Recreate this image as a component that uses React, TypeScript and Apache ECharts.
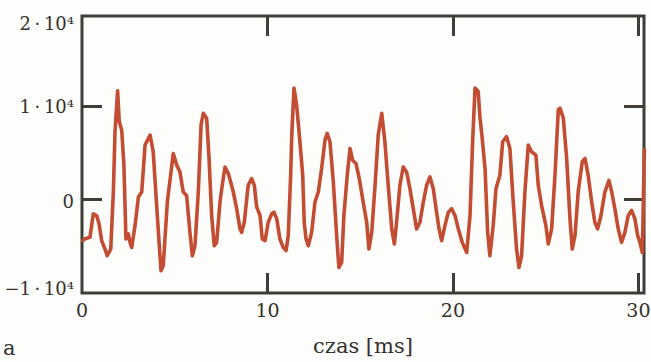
import React, { useEffect, useRef } from "react";
import * as echarts from "echarts";

// time axis [ms]
const timeMs = [
  0.05, 0.16, 0.43, 0.61, 0.79, 0.92, 1.06, 1.24, 1.36, 1.55,
  1.69, 1.78, 1.92, 2.01, 2.14, 2.26, 2.37, 2.5, 2.59, 2.68,
  2.86, 3.04, 3.22, 3.4, 3.67, 3.84, 4.06, 4.26, 4.38, 4.6,
  4.92, 5.11, 5.28, 5.46, 5.64, 5.82, 5.95, 6.09, 6.27, 6.42,
  6.54, 6.72, 6.85, 6.99, 7.13, 7.26, 7.44, 7.56, 7.71, 7.89,
  8.16, 8.34, 8.52, 8.61, 8.75, 8.96, 9.15, 9.29, 9.42, 9.6,
  9.72, 9.87, 10.04, 10.23, 10.35, 10.5, 10.67, 10.85, 11.0, 11.12,
  11.25, 11.31, 11.43, 11.57, 11.75, 11.9, 11.98, 12.08, 12.2, 12.38,
  12.56, 12.74, 12.92, 13.1, 13.22, 13.37, 13.55, 13.73, 13.85, 14.0,
  14.12, 14.3, 14.45, 14.59, 14.77, 14.95, 15.16, 15.35, 15.47, 15.62,
  15.8, 15.97, 16.16, 16.33, 16.51, 16.7, 16.84, 16.96, 17.14, 17.32,
  17.5, 17.68, 17.86, 18.04, 18.22, 18.4, 18.58, 18.76, 18.94, 19.08,
  19.25, 19.39, 19.57, 19.75, 19.93, 20.11, 20.29, 20.5, 20.74, 20.92,
  21.06, 21.19, 21.36, 21.46, 21.56, 21.73, 21.87, 21.99, 22.17, 22.32,
  22.53, 22.68, 22.89, 23.07, 23.25, 23.43, 23.56, 23.7, 23.88, 24.06,
  24.24, 24.47, 24.6, 24.78, 25.01, 25.14, 25.32, 25.5, 25.68, 25.77,
  25.95, 26.13, 26.31, 26.43, 26.58, 26.75, 26.97, 27.12, 27.29, 27.48,
  27.65, 27.8, 27.98, 28.19, 28.41, 28.56, 28.73, 28.91, 29.09, 29.27,
  29.45, 29.63, 29.81, 29.96, 30.08, 30.21, 30.32,
];

// signal amplitude
const amplitude = [
  -4400, -4200, -4050, -1540, -1720, -2610, -4410, -5300, -6020, -5300,
  790, 7240, 11610, 8310, 7420, 3660, -4230, -3690, -4590, -5130,
  -2800, 250, 790, 5810, 6880, 5090, -1720, -7630, -7100, -290,
  4910, 3660, 2940, 790, 430, -3520, -6020, -4950, 790, 7960,
  9210, 8680, 4380, -1720, -4950, -4590, -290, 1510, 3470, 2760,
  790, -1000, -3150, -3520, -2440, 1510, 2230, 1510, -830, -1720,
  -4230, -4410, -2440, -1540, -1370, -2080, -4230, -5130, -5480, -3870,
  2580, 6880, 11900, 10110, 6160, 2580, -2440, -4230, -4950, -3520,
  -290, 790, 3300, 6340, 7060, 6160, 1860, -3870, -7280, -6740,
  -1720, 2580, 5450, 4190, 3840, 2230, -290, -2470, -5300, -3520,
  1510, 6880, 9210, 6160, 1510, -3150, -4760, -2440, 1510, 3470,
  2940, 1150, -1000, -3150, -2440, -290, 1510, 2400, 1150, -830,
  -3150, -4410, -2800, -1370, -1000, -1720, -3150, -4590, -5670, -1720,
  6160, 11900, 11540, 8680, 6880, 3300, -3520, -6020, -2800, 1150,
  2580, 6160, 6700, 5450, -290, -5300, -7280, -6020, 790, 5810,
  5090, 4730, 1510, -650, -2800, -4760, -3150, 2580, 9570, 9750,
  8680, 4380, -2080, -5300, -3870, 790, 4010, 4380, 2580, -290,
  -2440, -3150, -1720, 790, 2040, 790, -1000, -3150, -4590, -3520,
  -1720, -1180, -2080, -3870, -4590, -5670, 5300,
];

const xTicks = [0, 10, 20, 30];
const xInnerTicks = [10, 20, 30];
const yTicks = [-10000, 0, 10000, 20000];
const yInnerTicks = [0, 10000];
const yTickText: Record<string, string> = {
  "-10000": "\u22121\u2009\u00b7\u200910\u2074",
  "0": "0",
  "10000": "1\u2009\u00b7\u200910\u2074",
  "20000": "2\u2009\u00b7\u200910\u2074",
};
const xAxisName = "czas [ms]";
const panelLetter = "a";

const X_MAX = 30.3;
const Y_MIN = -10000;
const Y_MAX = 19600;

const FRAME = "#403c37";
const TEXT = "#34312e";
const LINE = "#c24d32";
const FONT = "DejaVu Serif";

export default function App() {
  const ref = useRef<HTMLDivElement>(null);
  useEffect(() => {
    document.body.style.margin = "0";
    if (!ref.current) return;
    const chart = echarts.init(ref.current, null, { renderer: "svg" });

    // label anchors nudged slightly to match the original typesetting
    const yLabelAnchors = yTicks.map((v) => (v >= 20000 ? 18850 : v + (v === 10000 ? -50 : v === 0 ? -220 : 430)));
    const nearestTick = (v: number) => {
      let best = yTicks[0];
      for (const t of yTicks) if (Math.abs(t - v) < Math.abs(best - v)) best = t;
      return best;
    };

    const tickStyle = { inside: true, length: 20, lineStyle: { color: FRAME, width: 3 } };

    chart.setOption({
      animation: false,
      backgroundColor: "#fdfdfb",
      textStyle: { fontFamily: FONT },
      grid: {
        left: 82,
        right: 7,
        top: 16,
        bottom: 69,
        show: true,
        borderColor: FRAME,
        borderWidth: 3,
        backgroundColor: "transparent",
        containLabel: false,
        outerBoundsMode: "none",
      },
      xAxis: [
        {
          type: "value",
          position: "bottom",
          min: 0,
          max: X_MAX,
          interval: 10,
          axisLine: { show: false, onZero: false },
          axisTick: { ...tickStyle, customValues: xInnerTicks },
          splitLine: { show: false },
          axisLabel: {
            customValues: xTicks,
            margin: 7,
            fontSize: 19,
            fontFamily: FONT,
            color: TEXT,
            formatter: (v: number) => String(Math.round(v)),
          },
          name: xAxisName,
          nameLocation: "middle",
          nameGap: 42,
          nameTextStyle: { fontSize: 21, fontFamily: FONT, color: TEXT },
        },
        {
          type: "value",
          position: "top",
          min: 0,
          max: X_MAX,
          interval: 10,
          axisLine: { show: false, onZero: false },
          axisTick: { ...tickStyle, customValues: xInnerTicks },
          splitLine: { show: false },
          axisLabel: { show: false },
        },
      ],
      yAxis: [
        {
          type: "value",
          position: "left",
          min: Y_MIN,
          max: Y_MAX,
          interval: 10000,
          axisLine: { show: false, onZero: false },
          axisTick: { ...tickStyle, customValues: yInnerTicks },
          splitLine: { show: false },
          axisLabel: {
            customValues: yLabelAnchors,
            margin: 8,
            fontSize: 18,
            fontFamily: FONT,
            color: TEXT,
            formatter: (v: number) => yTickText[String(nearestTick(v))],
          },
        },
        {
          type: "value",
          position: "right",
          min: Y_MIN,
          max: Y_MAX,
          interval: 10000,
          axisLine: { show: false, onZero: false },
          axisTick: { ...tickStyle, customValues: yInnerTicks },
          splitLine: { show: false },
          axisLabel: { show: false },
        },
      ],
      graphic: [
        {
          type: "text",
          left: 3,
          top: 337,
          style: { text: panelLetter, fontSize: 21, fontFamily: FONT, fill: TEXT },
        },
      ],
      series: [
        {
          type: "line",
          data: timeMs.map((t, i) => [t, amplitude[i]]),
          showSymbol: false,
          clip: true,
          lineStyle: { color: LINE, width: 3.6, join: "round", cap: "round" },
        },
      ],
    });
    return () => chart.dispose();
  }, []);
  return <div ref={ref} style={{ width: 651, height: 362 }} />;
}
